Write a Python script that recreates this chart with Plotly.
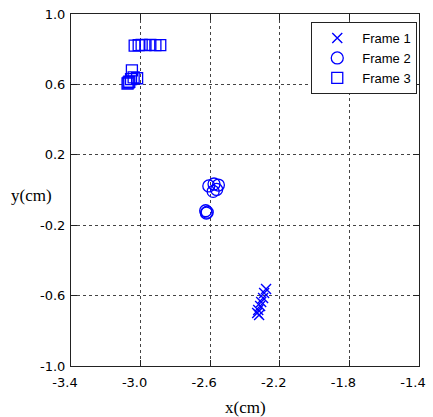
import plotly.graph_objects as go

# Frame 1 (x markers)
f1_x = [-2.279, -2.290, -2.296, -2.307, -2.313, -2.324, -2.330, -2.319]
f1_y = [-0.563, -0.585, -0.614, -0.636, -0.659, -0.682, -0.699, -0.710]

# Frame 2 (circles)
f2_x = [-2.608, -2.578, -2.553, -2.583, -2.563, -2.626, -2.617, -2.622]
f2_y = [0.023, 0.034, 0.028, -0.008, 0.003, -0.118, -0.126, -0.131]

# Frame 3 (squares)
f3_x = [-3.034, -3.011, -2.994, -2.972, -2.944, -2.915, -2.887,
        -3.075, -3.065, -3.055, -3.040, -3.020, -3.050, -3.070]
f3_y = [0.820, 0.823, 0.825, 0.823, 0.825, 0.823, 0.823,
        0.605, 0.615, 0.630, 0.640, 0.635, 0.680, 0.610]

x_ticks = [-3.4, -3.0, -2.6, -2.2, -1.8, -1.4]
y_ticks = [1.0, 0.6, 0.2, -0.2, -0.6, -1.0]

blue = "#0000ff"
fig = go.Figure()
fig.add_trace(go.Scatter(x=f1_x, y=f1_y, mode="markers", name="Frame 1",
                         marker=dict(symbol="x-thin-open", size=10, color=blue,
                                     line=dict(color=blue, width=1.4))))
fig.add_trace(go.Scatter(x=f2_x, y=f2_y, mode="markers", name="Frame 2",
                         marker=dict(symbol="circle-open", size=12, color=blue,
                                     line=dict(color=blue, width=1.3))))
fig.add_trace(go.Scatter(x=f3_x, y=f3_y, mode="markers", name="Frame 3",
                         marker=dict(symbol="square-open", size=11, color=blue,
                                     line=dict(color=blue, width=1.3))))

axis_common = dict(
    showline=True, linecolor="#222", linewidth=1, mirror="ticks",
    ticks="inside", ticklen=6, tickcolor="#222",
    showgrid=True, gridcolor="#444", gridwidth=1, griddash="3px,3px",
    zeroline=False, ticklabeloverflow="allow",
    tickfont=dict(family="DejaVu Sans", size=13, color="black"),
)
fig.update_xaxes(range=[-3.4, -1.4], tickvals=x_ticks, ticklabelshift=-6,
                 ticklabelstandoff=4,
                 ticktext=[f"{v:.1f}" for v in x_ticks], **axis_common)
fig.update_yaxes(range=[-1.0, 1.0], tickvals=y_ticks, ticklabelstandoff=2,
                 ticktext=[f"{v:.1f}" for v in y_ticks], **axis_common)

fig.add_annotation(text="x(cm)", xref="paper", yref="paper", x=0.5, y=-0.117,
                   xanchor="center", yanchor="middle", showarrow=False,
                   font=dict(family="Liberation Serif", size=17, color="black"))
fig.add_annotation(text="y(cm)", xref="paper", yref="paper", x=-0.1775, y=0.483,
                   xanchor="left", yanchor="middle", showarrow=False,
                   font=dict(family="Liberation Serif", size=17, color="black"))

fig.update_layout(
    width=433, height=417,
    margin=dict(l=71, r=7, t=12, b=51),
    plot_bgcolor="white", paper_bgcolor="white",
    legend=dict(x=0.995, y=0.977, xanchor="right", yanchor="top",
                bgcolor="white", bordercolor="#222", borderwidth=1,
                itemwidth=40,
                font=dict(family="Liberation Sans", size=13, color="black")),
)

fig.write_html("out.html")
